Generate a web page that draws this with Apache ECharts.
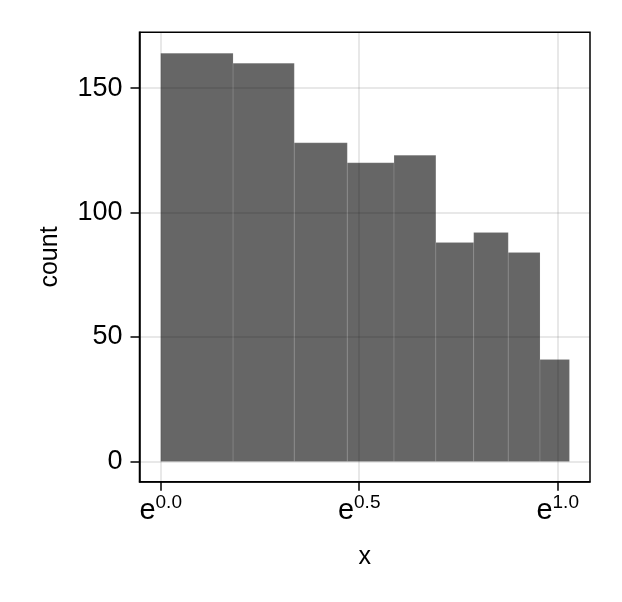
<!DOCTYPE html>
<html>
<head>
<meta charset="utf-8">
<script src="https://cdn.jsdelivr.net/npm/echarts@6/dist/echarts.min.js"></script>
<style>html,body{margin:0;padding:0;background:#fff;}#c{width:622px;height:602px;}</style>
</head>
<body>
<div id="c"></div>
<script>
// Histogram bin edges (x, linear values) and counts
const binEdges = [1.0, 1.2, 1.4, 1.6, 1.8, 2.0, 2.2, 2.4, 2.6, 2.8];
const counts = [164, 160, 128, 120, 123, 88, 92, 84, 41];
// tick positions (natural-log exponents) and y ticks
const xTickExponents = [0.0, 0.5, 1.0];
const yTicks = [0, 50, 100, 150];

const FONT = '"Liberation Sans", Arial, sans-serif';
const data = counts.map((c, i) => [Math.log(binEdges[i]), Math.log(binEdges[i + 1]), c]);

const chart = echarts.init(document.getElementById('c'));
chart.setOption({
  animation: false,
  grid: { left: 139.5, right: 32, top: 32.3, bottom: 120.3, show: true, borderColor: '#000', borderWidth: 1.5, backgroundColor: 'transparent' },
  xAxis: {
    type: 'value', min: -0.0534, max: 1.0814,
    name: 'x', nameLocation: 'middle', nameGap: 63,
    nameTextStyle: { fontFamily: FONT, fontSize: 25, color: '#000' },
    axisLine: { show: true, onZero: false, lineStyle: { color: '#000', width: 1.5 } },
    axisTick: { show: true, length: 9, lineStyle: { color: '#000', width: 1.5 }, customValues: xTickExponents },
    axisLabel: {
      customValues: xTickExponents, margin: 14, color: '#000',
      formatter: v => '{b|e}{s|' + v.toFixed(1) + '}',
      rich: {
        b: { fontFamily: FONT, fontSize: 29, color: '#000', lineHeight: 30 },
        s: { fontFamily: FONT, fontSize: 19, color: '#000', padding: [0, 0, 15, 0], lineHeight: 30 }
      }
    },
    splitLine: { show: true, lineStyle: { color: 'rgba(0,0,0,0.12)', width: 1.5 } }
  },
  yAxis: {
    type: 'value', min: -8.1, max: 172.4,
    name: 'count', nameLocation: 'middle', nameGap: 77, nameRotate: 90,
    nameTextStyle: { fontFamily: FONT, fontSize: 25, color: '#000' },
    axisLine: { show: true, onZero: false, lineStyle: { color: '#000', width: 1.5 } },
    axisTick: { show: true, length: 9, lineStyle: { color: '#000', width: 1.5 }, customValues: yTicks },
    axisLabel: { customValues: yTicks, margin: 17, color: '#000', fontFamily: FONT, fontSize: 27 },
    splitLine: { show: true, lineStyle: { color: 'rgba(0,0,0,0.12)', width: 1.5 } }
  },
  series: [{
    type: 'custom',
    data: data,
    encode: { x: [0, 1], y: 2 },
    renderItem: function (params, api) {
      const p0 = api.coord([api.value(0), 0]);
      const p1 = api.coord([api.value(1), api.value(2)]);
      return {
        type: 'rect',
        shape: { x: p0[0], y: p1[1], width: p1[0] - p0[0], height: p0[1] - p1[1] },
        style: { fill: 'rgba(0,0,0,0.6)', stroke: 'rgba(255,255,255,0.1)', lineWidth: 1 }
      };
    }
  }]
});
</script>
</body>
</html>
